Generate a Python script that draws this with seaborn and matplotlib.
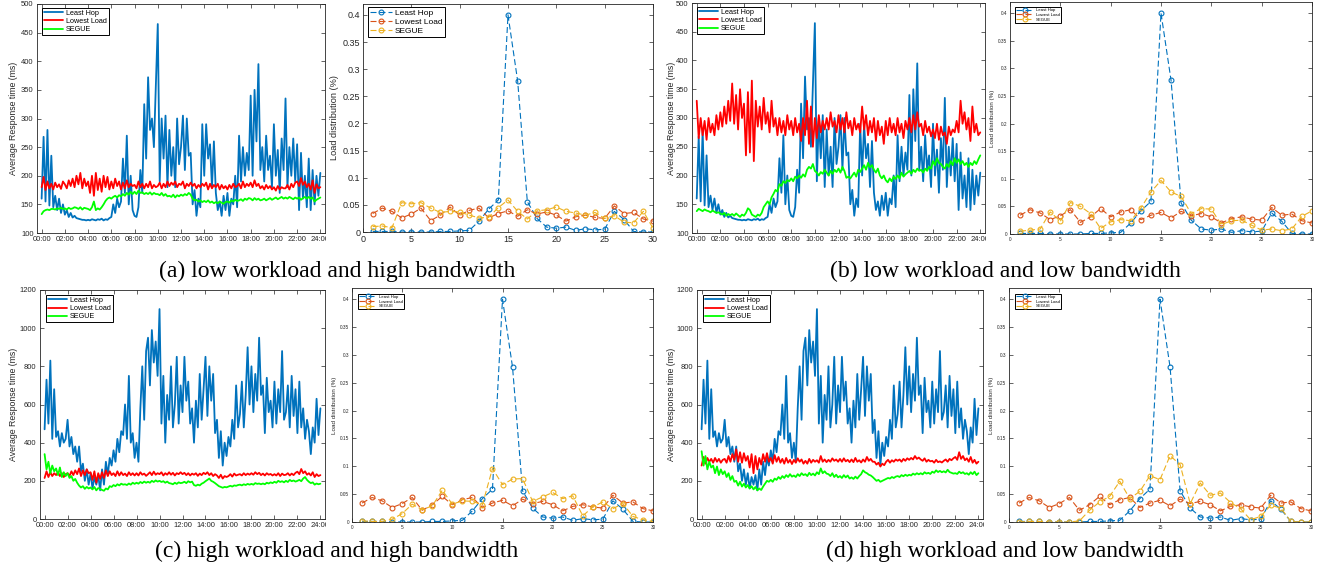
import numpy as np
import matplotlib
matplotlib.use('Agg')
import matplotlib.pyplot as plt
import seaborn as sns
from matplotlib.transforms import Bbox, TransformedBbox

# ---------------- data ----------------
SERIES_NAMES = ['Least Hop', 'Lowest Load', 'SEGUE']
TIME_TICKS = [0, 2, 4, 6, 8, 10, 12, 14, 16, 18, 20, 22, 24]
TIME_TICK_LABELS = ['00:00', '02:00', '04:00', '06:00', '08:00', '10:00', '12:00',
                    '14:00', '16:00', '18:00', '20:00', '22:00', '24:00']
CAPTIONS = ['(a) low workload and high bandwidth', '(b) low workload and low bandwidth',
            '(c) high workload and high bandwidth', '(d) high workload and low bandwidth']

# response time (ms), sampled every ~10 minutes over 24 h
least_hop_low = [
    160, 268, 155, 280, 148, 235,  145, 165, 140, 160, 135, 150,
    132, 140, 128, 135, 127, 130,  126, 125, 124, 123, 123, 122,
    123, 122, 124, 123, 122, 124,  123, 125, 122, 124, 123, 126,
    128, 150, 135, 160, 145, 155,  230, 170, 270, 150, 200, 140,
    130, 128, 145, 210, 170, 325,  230, 372, 280, 300, 250, 360,
    465, 190, 300, 230, 305, 180,  280, 200, 250, 180, 300, 220,
    250, 305, 210, 300, 235, 240,  150, 175, 130, 160, 145, 290,
    200, 290, 230, 255, 180, 260,  170, 140, 155, 130, 165, 140,
    170, 130, 160, 150, 200, 145,  270, 190, 250, 200, 240, 210,
    340, 200, 350, 260, 395, 210,  250, 190, 270, 210, 235, 180,
    290, 200, 245, 170, 265, 210,  335, 180, 250, 200, 265, 190,
    255, 140, 240, 160, 200, 145,  230, 140, 210, 150, 200, 165, 205]
lowest_load_a = [
    180, 198, 175, 190, 178, 186,  176, 188, 180, 185, 177, 190,
    185, 178, 192, 182, 195, 180,  200, 185, 205, 178, 195, 182,
    190, 170, 200, 165, 205, 175,  195, 172, 200, 180, 198, 176,
    190, 178, 195, 182, 190, 176,  188, 178, 192, 180, 186, 182,
    184, 178, 190, 180, 186, 178,  186, 180, 190, 178, 184, 180,
    182, 188, 178, 186, 180, 190,  182, 188, 184, 190, 180, 186,
    184, 190, 178, 186, 182, 188,  182, 186, 178, 184, 180, 186,
    182, 188, 176, 186, 178, 184,  180, 186, 176, 184, 178, 182,
    176, 184, 178, 186, 180, 182,  186, 178, 190, 180, 186, 182,
    188, 180, 192, 182, 186, 178,  182, 176, 184, 178, 182, 176,
    180, 174, 182, 176, 180, 178,  178, 184, 176, 186, 180, 188,
    190, 182, 196, 184, 190, 180,  186, 176, 192, 170, 185, 178, 180]
segue_a = [
    133, 138, 140, 141, 140, 142,  142, 141, 143, 142, 144, 142,
    143, 141, 144, 142, 143, 145,  144, 142, 145, 141, 144, 143,
    142, 140, 145, 155, 140, 143,  141, 145, 150, 156, 160, 162,
    160, 163, 165, 162, 166, 164,  168, 165, 170, 167, 172, 168,
    172, 168, 174, 170, 171, 168,  170, 168, 171, 167, 170, 168,
    168, 166, 170, 165, 168, 164,  165, 163, 167, 162, 166, 164,
    167, 165, 168, 166, 170, 167,  160, 157, 158, 155, 157, 154,
    156, 154, 157, 153, 155, 152,  154, 152, 155, 153, 151, 154,
    155, 153, 157, 155, 158, 156,  157, 159, 156, 160, 158, 161,
    160, 157, 161, 158, 160, 157,  158, 160, 157, 159, 161, 158,
    160, 162, 159, 161, 163, 160,  162, 160, 163, 161, 159, 162,
    160, 162, 158, 161, 163, 160,  163, 160, 162, 155, 158, 160, 162]
lowest_load_b = [
    330, 265, 300, 270, 295, 262,  300, 275, 290, 270, 305, 280,
    310, 285, 320, 290, 330, 295,  360, 290, 340, 280, 350, 300,
    325, 235, 345, 240, 365, 225,  330, 285, 320, 280, 335, 290,
    310, 275, 330, 285, 300, 270,  300, 275, 295, 270, 305, 280,
    295, 270, 300, 275, 290, 260,  300, 270, 330, 255, 320, 250,
    300, 265, 305, 275, 295, 280,  300, 280, 310, 285, 295, 275,
    305, 280, 300, 275, 310, 282,  295, 270, 300, 280, 290, 275,
    320, 280, 305, 270, 295, 275,  300, 260, 295, 270, 285, 255,
    295, 270, 300, 275, 290, 270,  300, 275, 290, 265, 295, 280,
    300, 275, 305, 280, 310, 285,  290, 270, 295, 275, 285, 268,
    280, 265, 290, 262, 285, 270,  275, 255, 285, 270, 280, 275,
    295, 275, 330, 290, 310, 280,  300, 260, 320, 275, 290, 270, 275]
segue_b = [
    138, 142, 140, 138, 141, 139,  138, 136, 139, 137, 135, 136,
    134, 132, 135, 130, 133, 131,  133, 130, 134, 131, 128, 132,
    130, 135, 143, 140, 132, 130,  128, 132, 130, 135, 145, 150,
    155, 150, 162, 168, 175, 172,  185, 182, 190, 187, 192, 190,
    195, 190, 198, 195, 200, 196,  202, 198, 210, 215, 212, 220,
    208, 205, 200, 206, 203, 210,  205, 200, 208, 203, 210, 206,
    212, 205, 215, 208, 196, 198,  195, 200, 205, 198, 210, 206,
    212, 218, 210, 222, 214, 218,  210, 205, 212, 200, 195, 200,
    192, 188, 195, 190, 198, 194,  200, 195, 205, 198, 202, 205,
    208, 203, 210, 206, 212, 208,  210, 205, 212, 208, 215, 212,
    225, 218, 230, 222, 220, 215,  212, 220, 215, 225, 218, 230,
    222, 228, 220, 225, 218, 222,  215, 222, 218, 225, 220, 228, 235]
least_hop_high = [
    470, 730, 500, 830, 420, 680,  430, 460, 380, 450, 400, 420,
    520, 380, 430, 340, 380, 300,  380, 250, 290, 200, 260, 180,
    240, 160, 220, 180, 230, 150,  260, 180, 300, 230, 320, 280,
    360, 300, 420, 350, 460, 440,  600, 420, 750, 400, 450, 320,
    400, 300, 580, 800, 520, 880,  950, 700, 990, 820, 930, 750,
    1100, 500, 750, 400, 650, 520, 800, 480, 600, 850, 500, 700,
    560, 850, 620, 720, 500, 580,  400, 620, 480, 760, 520, 680,
    850, 540, 800, 620, 760, 450,  520, 320, 460, 280, 400, 330,
    430, 380, 520, 420, 700, 480,  550, 720, 480, 650, 900, 600,
    800, 560, 760, 620, 950, 650,  700, 450, 740, 560, 620, 480,
    720, 500, 680, 560, 880, 520,  560, 700, 480, 750, 540, 680,
    450, 720, 480, 580, 420, 520,  460, 340, 480, 400, 630, 440, 580]
lowest_load_c = [
    215, 250, 220, 245, 225, 240,  230, 245, 225, 240, 220, 235,
    240, 225, 250, 230, 255, 235,  265, 225, 255, 230, 260, 240,
    245, 205, 250, 190, 240, 210,  245, 215, 255, 225, 250, 230,
    240, 225, 250, 228, 245, 230,  238, 225, 245, 230, 240, 228,
    240, 228, 245, 232, 238, 226,  235, 245, 230, 248, 232, 240,
    235, 245, 228, 240, 232, 245,  232, 242, 228, 240, 235, 245,
    235, 242, 230, 240, 228, 238,  232, 240, 226, 238, 230, 242,
    235, 245, 230, 240, 225, 235,  228, 215, 232, 212, 225, 220,
    225, 235, 222, 238, 228, 232,  235, 228, 240, 230, 238, 232,
    240, 232, 245, 235, 242, 230,  238, 228, 240, 232, 236, 228,
    235, 228, 240, 225, 238, 230,  232, 240, 228, 238, 230, 242,
    248, 235, 262, 240, 250, 232,  240, 228, 245, 220, 235, 225, 230]
segue_c = [
    340, 260, 300, 240, 280, 250,  265, 230, 270, 220, 245, 225,
    240, 215, 225, 200, 210, 190,  175, 165, 172, 158, 168, 160,
    165, 155, 168, 150, 162, 158,  152, 148, 160, 155, 172, 168,
    178, 172, 182, 176, 185, 180,  182, 178, 186, 180, 190, 184,
    190, 185, 194, 188, 196, 190,  195, 190, 200, 194, 202, 196,
    200, 194, 198, 190, 196, 188,  186, 182, 190, 184, 192, 188,
    190, 195, 188, 198, 192, 196,  178, 174, 180, 176, 185, 190,
    198, 205, 212, 200, 195, 188,  180, 172, 168, 164, 168, 166,
    170, 174, 170, 176, 174, 178,  180, 176, 182, 178, 184, 180,
    184, 180, 188, 184, 186, 182,  186, 182, 190, 186, 192, 188,
    195, 190, 200, 194, 198, 192,  200, 194, 205, 198, 202, 196,
    200, 205, 198, 212, 220, 205,  195, 188, 192, 180, 186, 182, 185]
lowest_load_d = [
    280, 325, 290, 320, 300, 315,  295, 320, 300, 315, 295, 310,
    315, 295, 330, 300, 340, 310,  365, 300, 350, 295, 345, 305,
    330, 270, 340, 240, 330, 260,  320, 285, 340, 300, 345, 300,
    320, 290, 335, 300, 325, 295,  315, 290, 320, 295, 310, 288,
    310, 295, 318, 300, 312, 290,  305, 290, 315, 295, 310, 300,
    308, 295, 330, 300, 312, 298,  310, 300, 318, 305, 312, 300,
    315, 300, 318, 302, 310, 298,  312, 298, 320, 300, 308, 296,
    312, 300, 325, 305, 315, 300,  300, 285, 295, 275, 290, 282,
    300, 310, 295, 308, 300, 312,  305, 312, 300, 315, 305, 318,
    310, 320, 312, 330, 315, 322,  312, 305, 318, 300, 310, 302,
    305, 295, 310, 298, 302, 296,  305, 312, 300, 315, 308, 318,
    325, 310, 350, 315, 330, 308,  318, 300, 325, 295, 310, 290, 300]
segue_d = [
    355, 280, 330, 260, 300, 270,  280, 240, 275, 230, 260, 235,
    250, 220, 240, 205, 225, 195,  200, 175, 195, 170, 185, 165,
    178, 160, 172, 155, 168, 150,  160, 152, 170, 185, 200, 195,
    205, 195, 212, 205, 220, 210,  225, 215, 230, 220, 235, 222,
    228, 220, 235, 225, 240, 230,  235, 225, 242, 230, 238, 228,
    245, 235, 265, 240, 250, 238,  235, 225, 240, 220, 232, 218,
    225, 215, 230, 218, 228, 212,  218, 210, 222, 212, 225, 235,
    255, 245, 240, 232, 228, 220,  210, 200, 205, 195, 200, 205,
    210, 215, 212, 220, 215, 222,  225, 220, 230, 224, 232, 226,
    232, 228, 238, 232, 240, 234,  240, 234, 245, 238, 242, 236,
    248, 242, 255, 246, 252, 245,  250, 244, 258, 246, 242, 238,
    240, 236, 248, 240, 245, 236,  240, 232, 245, 235, 248, 230, 240]

# load distribution over 30 nodes
NODES = list(range(1, 31))
load_least_hop = [0.001, 0.001, 0.001, 0.0, 0.0, 0.0, 0.0, 0.001, 0.001, 0.002,
                  0.003, 0.020, 0.042, 0.059, 0.400, 0.278, 0.056, 0.025, 0.009, 0.007,
                  0.009, 0.003, 0.006, 0.004, 0.005, 0.038, 0.023, 0.001, 0.0, 0.0]
load_lowest_load = [0.034, 0.044, 0.038, 0.026, 0.033, 0.044, 0.021, 0.031, 0.046, 0.031,
                    0.040, 0.044, 0.026, 0.034, 0.039, 0.029, 0.041, 0.033, 0.037, 0.031,
                    0.020, 0.028, 0.031, 0.027, 0.025, 0.048, 0.034, 0.036, 0.024, 0.020]
load_segue_a = [0.010, 0.011, 0.008, 0.054, 0.052, 0.054, 0.044, 0.036, 0.038, 0.037,
                0.031, 0.026, 0.027, 0.045, 0.059, 0.038, 0.024, 0.039, 0.041, 0.046,
                0.038, 0.035, 0.031, 0.036, 0.025, 0.030, 0.018, 0.017, 0.038, 0.007]
load_segue_b = [0.005, 0.007, 0.009, 0.040, 0.023, 0.057, 0.050, 0.037, 0.010, 0.022,
                0.026, 0.024, 0.047, 0.076, 0.097, 0.076, 0.068, 0.037, 0.046, 0.045,
                0.017, 0.024, 0.025, 0.016, 0.007, 0.009, 0.006, 0.009, 0.032, 0.042]
load_segue_c = [0.002, 0.001, 0.001, 0.005, 0.015, 0.032, 0.022, 0.029, 0.057, 0.032,
                0.038, 0.037, 0.031, 0.096, 0.067, 0.077, 0.078, 0.037, 0.045, 0.053,
                0.042, 0.047, 0.011, 0.027, 0.036, 0.024, 0.033, 0.010, 0.004, 0.001]
load_segue_d = [0.0, 0.001, 0.001, 0.0, 0.0, 0.0, 0.002, 0.021, 0.036, 0.046,
                0.073, 0.042, 0.055, 0.083, 0.076, 0.119, 0.103, 0.033, 0.070, 0.048,
                0.052, 0.035, 0.024, 0.004, 0.010, 0.030, 0.025, 0.001, 0.0, 0.0]
LOAD_YTICKS = [0, 0.05, 0.1, 0.15, 0.2, 0.25, 0.3, 0.35, 0.4]
LOAD_YTICK_LABELS = ['0', '0.05', '0.1', '0.15', '0.2', '0.25', '0.3', '0.35', '0.4']
LOAD_XTICKS = [0, 5, 10, 15, 20, 25, 30]

# ---------------- style ----------------
W, H = 1325, 573
sns.set_style('ticks')
plt.rcParams['font.family'] = ['Liberation Sans', 'DejaVu Sans']
fig = plt.figure(figsize=(W / 100, H / 100), dpi=100)

INK = '#262626'
TIME_COLORS = ['#0072BD', '#FF0000', '#00FF00']
LOAD_COLORS = ['#0072BD', '#D95319', '#EDB120']


def add_ax(l, t, r, b):
    return fig.add_axes([l / W, 1 - b / H, (r - l) / W, (b - t) / H])


def style_ax(ax, lsize, pad):
    for s in ax.spines.values():
        s.set_linewidth(0.6)
        s.set_color(INK)
    ax.tick_params(direction='in', top=True, right=True, length=3, width=0.5,
                   color=INK, labelcolor=INK, labelsize=lsize, pad=pad)


def leg(ax, anchor, fs, hl):
    lg = ax.legend(loc='upper left', bbox_to_anchor=anchor, fontsize=fs, frameon=True,
                   fancybox=False, edgecolor='black', framealpha=1, borderpad=0.25,
                   labelspacing=0.15, handlelength=hl, handletextpad=0.4, borderaxespad=0)
    lg.get_frame().set_linewidth(0.7)
    for t in lg.get_texts():
        t.set_color('black')


def time_panel(box, series, ylim, yticks, ylab_x, clip_x, leg_anchor, legfs):
    ax = add_ax(*box)
    for vals, col, name in zip(series, TIME_COLORS, SERIES_NAMES):
        hrs = np.linspace(0, 24, len(vals))
        sns.lineplot(x=hrs, y=vals, color=col, lw=1.3, label=name, ax=ax,
                     estimator=None, sort=False)
    ax.set_xlim(-0.4, 24.4)
    ax.set_ylim(*ylim)
    ax.set_xticks(TIME_TICKS, TIME_TICK_LABELS)
    ax.set_yticks(yticks)
    style_ax(ax, 5.5, 2.5)
    ax.set_ylabel('Average Response time (ms)', fontsize=6.3, color=INK)
    ax.yaxis.set_label_coords(ylab_x, 0.5)
    leg(ax, leg_anchor, legfs, 2.7)
    lab = ax.get_xticklabels()[-1]
    lab.set_clip_on(True)
    lab.set_clip_box(TransformedBbox(Bbox([[0, 0], [clip_x / W, 1]]), fig.transFigure))
    return ax


def load_panel(box, series, lsize, ylab_fs, ylab_x, leg_anchor, legfs, hl, pad):
    ax = add_ax(*box)
    for vals, col, name in zip(series, LOAD_COLORS, SERIES_NAMES):
        sns.lineplot(x=NODES, y=vals, color=col, lw=0.8, linestyle=(0, (5.4, 2.7)),
                     marker='o', ms=3.5, mfc='none', mec=col, mew=0.8, label=name,
                     ax=ax, estimator=None, sort=False)
    ax.set_xlim(0, 30)
    ax.set_ylim(0, 0.42)
    ax.set_xticks(LOAD_XTICKS)
    ax.set_yticks(LOAD_YTICKS, LOAD_YTICK_LABELS)
    style_ax(ax, lsize, pad)
    ax.set_ylabel('Load distribution (%)', fontsize=ylab_fs, color=INK)
    ax.yaxis.set_label_coords(ylab_x, 0.5)
    leg(ax, leg_anchor, legfs, hl)
    return ax


# (a)
time_panel((37, 4, 325, 233), [least_hop_low, lowest_load_a, segue_a], (100, 500),
           list(range(100, 501, 50)), -0.066, 326, (0.017, 0.983), 5.2)
load_panel((363, 4, 653, 232), [load_least_hop, load_lowest_load, load_segue_a],
           6.5, 6.6, -0.083, (0.017, 0.987), 6.0, 2.6, 2)
# (b)
time_panel((692, 3, 985, 233), [least_hop_low, lowest_load_b, segue_b], (100, 500),
           list(range(100, 501, 50)), -0.055, 986, (0.017, 0.983), 5.2)
load_panel((1010, 2, 1312, 234), [load_least_hop, load_lowest_load, load_segue_b],
           3.4, 4.5, -0.05, (0.017, 0.978), 3.1, 4.2, 2)
# (c)
time_panel((40, 290, 325, 519), [least_hop_high, lowest_load_c, segue_c], (0, 1200),
           list(range(0, 1201, 200)), -0.077, 326, (0.02, 0.978), 5.2)
load_panel((352, 288, 653, 522), [load_least_hop, load_lowest_load, load_segue_c],
           3.4, 4.5, -0.05, (0.02, 0.975), 3.1, 4.2, 2)
# (d)
time_panel((697, 290, 983, 519), [least_hop_high, lowest_load_d, segue_d], (0, 1200),
           list(range(0, 1201, 200)), -0.073, 984, (0.02, 0.978), 5.2)
load_panel((1009, 288, 1311, 522), [load_least_hop, load_lowest_load, load_segue_d],
           3.4, 4.5, -0.05, (0.02, 0.975), 3.1, 4.2, 2)

# captions
for (cx, cy), txt in zip([(337, 271), (1005, 271), (337, 551), (1005, 551)], CAPTIONS):
    fig.text(cx / W, 1 - cy / H, txt, ha='center', va='center', fontsize=17,
             family=['Liberation Serif', 'DejaVu Serif'], color='black')

fig.savefig('out.png', dpi=100)
